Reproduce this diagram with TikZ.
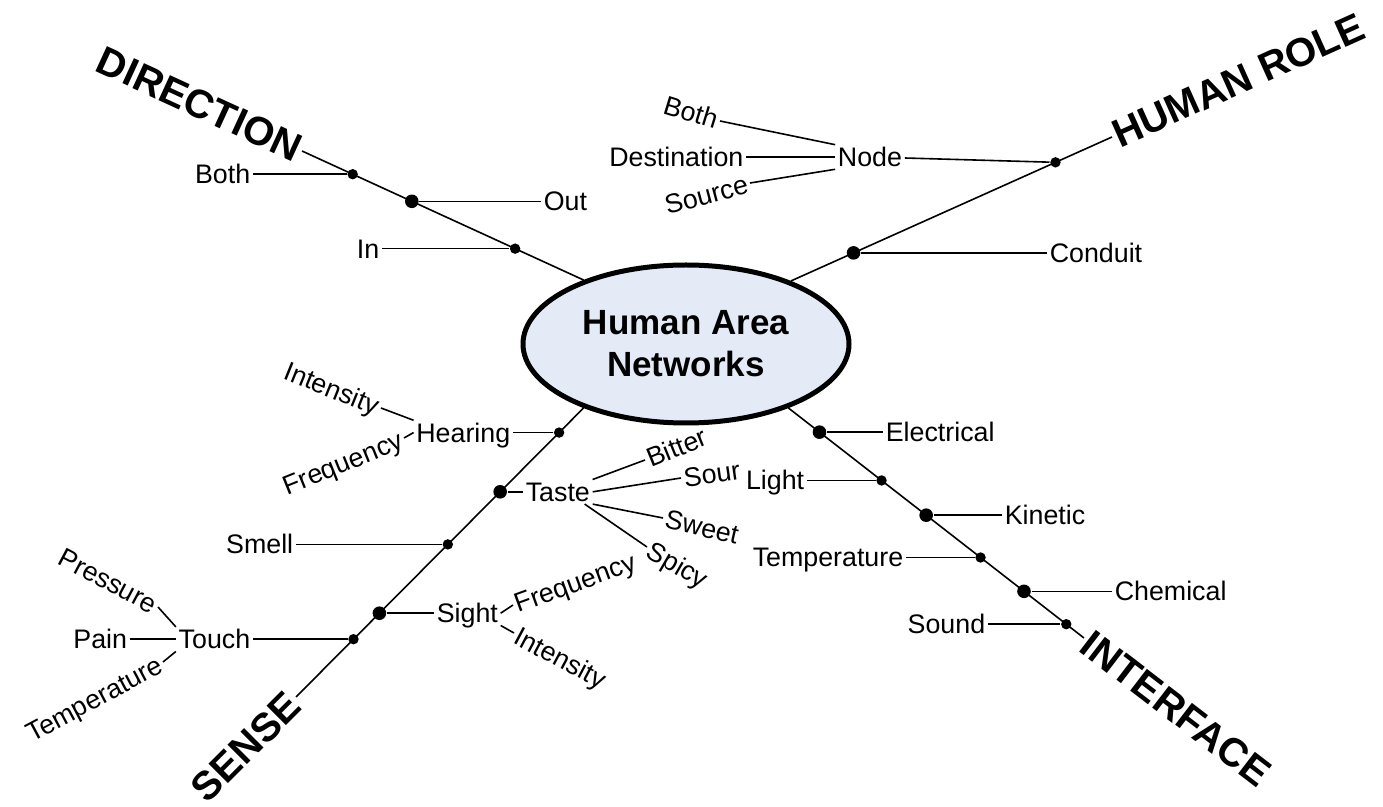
\documentclass[tikz,border=0pt]{standalone}
\usepackage{fontspec}
\setmainfont{Liberation Sans}
\usetikzlibrary{shapes.geometric,positioning,calc}
\definecolor{hubfill}{RGB}{228,235,247}
\tikzset{
  lbl/.style={inner sep=1pt,font=\fontsize{13.4}{15}\selectfont,text height=9.5pt,text depth=0pt},
  axislbl/.style={inner sep=1pt,font=\fontsize{20}{23}\selectfont\bfseries},
  bead/.style={circle,fill=black,inner sep=0pt,minimum size=5.2pt},
  bigbead/.style={bead,minimum size=6.8pt}
}
\begin{document}
\begin{tikzpicture}[x=0.5pt,y=-0.5pt,line width=0.8pt]
\useasboundingbox (0,0) rectangle (1383,807);
% centre
\node[ellipse,draw,line width=2.5pt,fill=hubfill,minimum width=163pt,minimum height=79pt,
  align=center,font=\fontsize{17.5}{21}\selectfont\bfseries] (hub) at (686,344) {Human Area\\Networks};

% axis labels and trunks
\node[axislbl,rotate=-24.7,anchor=east] (dirLbl) at (302,151) {DIRECTION};
\node[axislbl,rotate=24.2,anchor=west] (roleLbl) at (1112,137) {HUMAN ROLE};
\node[axislbl,rotate=-37.5,anchor=west] (ifLbl) at (1084,638) {INTERFACE};
\node[axislbl,rotate=45,anchor=east] (senseLbl) at (296,697) {SENSE};
\draw (dirLbl.east) -- (hub.148);
\draw (roleLbl.west) -- (hub.31);
\draw (ifLbl.west) -- (hub.-32);
\draw (senseLbl.east) -- (hub.212);

% direction
\node[bead] (dirA) at ($(hub.148)!0.82!(dirLbl.east)$) {};
\node[bigbead] (dirB) at ($(hub.148)!0.61!(dirLbl.east)$) {};
\node[bead] (dirC) at ($(hub.148)!0.243!(dirLbl.east)$) {};
\node[lbl,anchor=east] (dirBoth) at (dirA -| 253,0) {Both};
\node[lbl,anchor=west] (dirOut) at (dirB -| 541,0) {Out};
\node[lbl,anchor=east] (dirIn) at (dirC -| 382,0) {In};
\draw (dirA) -- (dirBoth);
\draw (dirB) -- (dirOut);
\draw (dirC) -- (dirIn);

% human role
\node[bigbead] (roleA) at ($(hub.31)!0.195!(roleLbl.west)$) {};
\node[bead] (roleB) at ($(hub.31)!0.824!(roleLbl.west)$) {};
\node[lbl,anchor=west] (roleCond) at (roleA -| 1047,0) {Conduit};
\node[lbl] (roleNode) at (870,157) {Node};
\node[lbl,left=44.5pt of roleNode] (roleDest) {Destination};
\node[lbl,rotate=-17,anchor=east] (roleBoth) at (720,121) {Both};
\node[lbl,rotate=15,anchor=east] (roleSrc) at (750,183) {Source};
\draw (roleA) -- (roleCond);
\draw (roleB) -- (roleNode);
\draw (roleDest) -- (roleNode);
\draw (roleBoth.east) -- (roleNode.north west);
\draw (roleSrc.east) -- (roleNode.south west);

% interface
\node[bigbead] (ifA) at ($(hub.-32)!0.105!(ifLbl.west)$) {};
\node[bead] (ifB) at ($(hub.-32)!0.315!(ifLbl.west)$) {};
\node[bigbead] (ifC) at ($(hub.-32)!0.466!(ifLbl.west)$) {};
\node[bead] (ifD) at ($(hub.-32)!0.65!(ifLbl.west)$) {};
\node[bigbead] (ifE) at ($(hub.-32)!0.797!(ifLbl.west)$) {};
\node[bead] (ifF) at ($(hub.-32)!0.94!(ifLbl.west)$) {};
\node[lbl,anchor=west] (ifElec) at (ifA -| 883,0) {Electrical};
\node[lbl,anchor=east] (ifLight) at (ifB -| 807,0) {Light};
\node[lbl,anchor=west] (ifKin) at (ifC -| 1002,0) {Kinetic};
\node[lbl,anchor=east] (ifTemp) at (ifD -| 906,0) {Temperature};
\node[lbl,anchor=west] (ifChem) at (ifE -| 1112,0) {Chemical};
\node[lbl,anchor=east] (ifSound) at (ifF -| 988,0) {Sound};
\draw (ifA) -- (ifElec);
\draw (ifB) -- (ifLight);
\draw (ifC) -- (ifKin);
\draw (ifD) -- (ifTemp);
\draw (ifE) -- (ifChem);
\draw (ifF) -- (ifSound);

% sense
\node[bead] (seA) at ($(hub.212)!0.085!(senseLbl.east)$) {};
\node[bigbead] (seB) at ($(hub.212)!0.29!(senseLbl.east)$) {};
\node[bead] (seC) at ($(hub.212)!0.472!(senseLbl.east)$) {};
\node[bigbead] (seD) at ($(hub.212)!0.71!(senseLbl.east)$) {};
\node[bead] (seE) at ($(hub.212)!0.80!(senseLbl.east)$) {};
\node[lbl,anchor=east] (hear) at (seA -| 513,0) {Hearing};
\node[lbl,anchor=west] (taste) at (seB -| 523,0) {Taste};
\node[lbl,anchor=east] (smell) at (seC -| 296,0) {Smell};
\node[lbl,anchor=west] (sight) at (seD -| 434,0) {Sight};
\node[lbl,anchor=east] (touch) at (seE -| 253,0) {Touch};
\draw (seA) -- (hear);
\draw (seB) -- (taste);
\draw (seC) -- (smell);
\draw (seD) -- (sight);
\draw (seE) -- (touch);

\node[lbl,rotate=-22,anchor=east] (hearInt) at (381,408) {Intensity};
\node[lbl,rotate=22,anchor=east] (hearFreq) at (404,438) {Frequency};
\draw (hearInt.east) -- (hear.north west);
\draw (hearFreq.east) -- (hear.west);

\node[lbl,rotate=22,anchor=west] (bitter) at (645,460) {Bitter};
\node[lbl,rotate=8,anchor=west] (sour) at (681,478) {Sour};
\node[lbl,rotate=-13,anchor=west] (sweet) at (663,518) {Sweet};
\node[lbl,rotate=-30,anchor=west] (spicy) at (647,547) {Spicy};
\draw (taste.north east) -- (bitter.west);
\draw (taste.east) -- (sour.west);
\draw (taste.south east) -- (sweet.west);
\draw ([xshift=-4pt]taste.south east) -- (spicy.west);

\node[lbl,rotate=20,anchor=west] (sightFreq) at (513,605) {Frequency};
\node[lbl,rotate=-28,anchor=west] (sightInt) at (514,633) {Intensity};
\draw (sight.east) -- (sightFreq.west);
\draw (sight.south east) -- (sightInt.west);

\node[lbl,left=23pt of touch] (pain) {Pain};
\node[lbl,rotate=-28,anchor=east] (press) at (158,607) {Pressure};
\node[lbl,rotate=28,anchor=east] (touchTemp) at (163,662) {Temperature};
\draw (pain) -- (touch);
\draw (press.east) -- (touch.north west);
\draw (touchTemp.east) -- (touch.south west);
\end{tikzpicture}
\end{document}
